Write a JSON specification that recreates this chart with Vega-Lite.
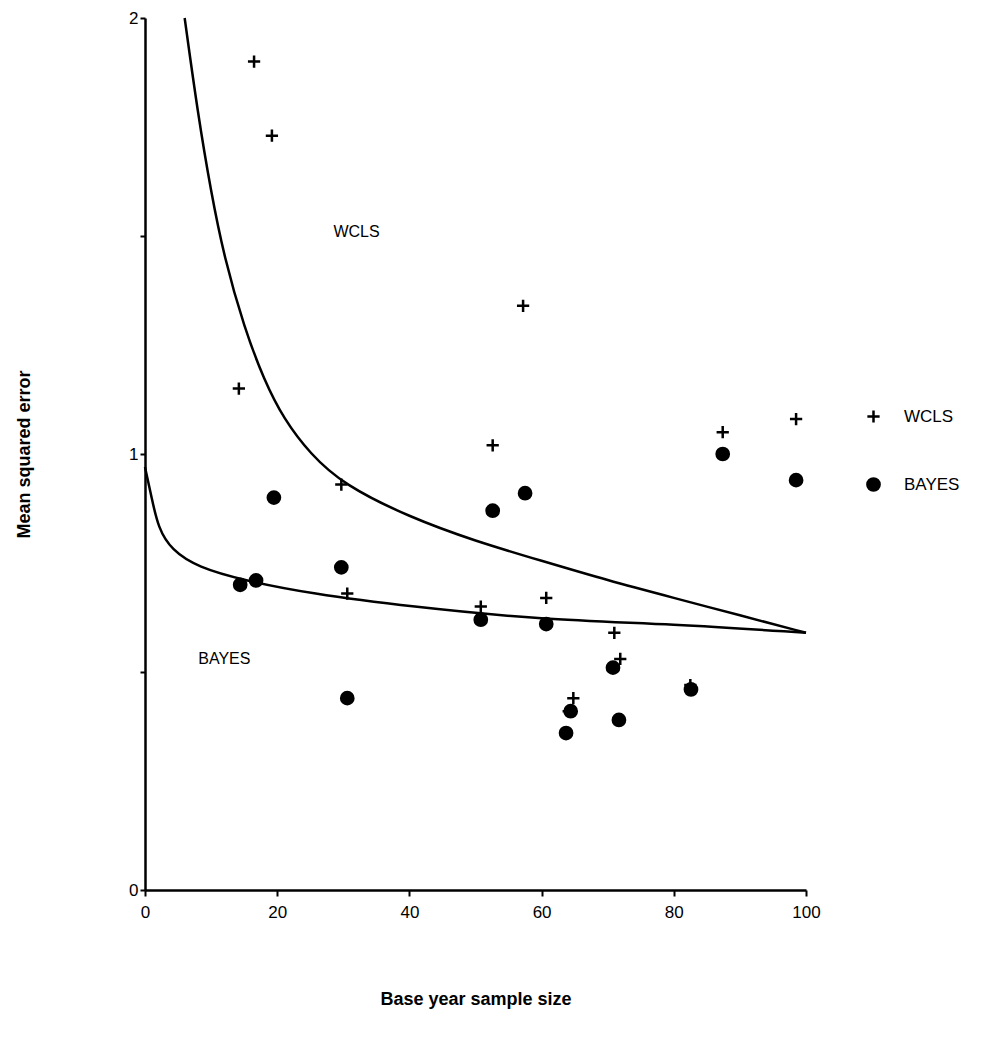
{
  "$schema": "https://vega.github.io/schema/vega-lite/v6.json",
  "width": 661,
  "height": 872,
  "autosize": "none",
  "padding": {"left": 145, "top": 18, "right": 194, "bottom": 147},
  "background": "white",
  "config": {"font": "Liberation Sans", "view": {"stroke": null}},
  "datasets": {
    "pts": [
      {"n": 16.5, "mse": 1.90, "method": "WCLS"},
      {"n": 19.2, "mse": 1.73, "method": "WCLS"},
      {"n": 14.2, "mse": 1.15, "method": "WCLS"},
      {"n": 29.7, "mse": 0.93, "method": "WCLS"},
      {"n": 30.6, "mse": 0.68, "method": "WCLS"},
      {"n": 52.6, "mse": 1.02, "method": "WCLS"},
      {"n": 57.2, "mse": 1.34, "method": "WCLS"},
      {"n": 50.8, "mse": 0.65, "method": "WCLS"},
      {"n": 60.7, "mse": 0.67, "method": "WCLS"},
      {"n": 71.0, "mse": 0.59, "method": "WCLS"},
      {"n": 71.9, "mse": 0.53, "method": "WCLS"},
      {"n": 64.8, "mse": 0.44, "method": "WCLS"},
      {"n": 64.1, "mse": 0.41, "method": "WCLS"},
      {"n": 82.5, "mse": 0.47, "method": "WCLS"},
      {"n": 87.4, "mse": 1.05, "method": "WCLS"},
      {"n": 98.5, "mse": 1.08, "method": "WCLS"},
      {"n": 14.4, "mse": 0.70, "method": "BAYES"},
      {"n": 16.8, "mse": 0.71, "method": "BAYES"},
      {"n": 19.5, "mse": 0.90, "method": "BAYES"},
      {"n": 29.7, "mse": 0.74, "method": "BAYES"},
      {"n": 30.6, "mse": 0.44, "method": "BAYES"},
      {"n": 52.6, "mse": 0.87, "method": "BAYES"},
      {"n": 57.5, "mse": 0.91, "method": "BAYES"},
      {"n": 50.8, "mse": 0.62, "method": "BAYES"},
      {"n": 60.7, "mse": 0.61, "method": "BAYES"},
      {"n": 70.8, "mse": 0.51, "method": "BAYES"},
      {"n": 71.7, "mse": 0.39, "method": "BAYES"},
      {"n": 64.4, "mse": 0.41, "method": "BAYES"},
      {"n": 63.7, "mse": 0.36, "method": "BAYES"},
      {"n": 82.6, "mse": 0.46, "method": "BAYES"},
      {"n": 87.4, "mse": 1.00, "method": "BAYES"},
      {"n": 98.5, "mse": 0.94, "method": "BAYES"}
    ],
    "curves": [
      {"n": 6, "mse": 2.0, "curve": "WCLS"},
      {"n": 8, "mse": 1.78, "curve": "WCLS"},
      {"n": 10, "mse": 1.6, "curve": "WCLS"},
      {"n": 12, "mse": 1.45, "curve": "WCLS"},
      {"n": 15, "mse": 1.29, "curve": "WCLS"},
      {"n": 18, "mse": 1.17, "curve": "WCLS"},
      {"n": 21, "mse": 1.08, "curve": "WCLS"},
      {"n": 25, "mse": 1.0, "curve": "WCLS"},
      {"n": 30, "mse": 0.93, "curve": "WCLS"},
      {"n": 40, "mse": 0.855, "curve": "WCLS"},
      {"n": 50, "mse": 0.8, "curve": "WCLS"},
      {"n": 60, "mse": 0.755, "curve": "WCLS"},
      {"n": 70, "mse": 0.71, "curve": "WCLS"},
      {"n": 80, "mse": 0.67, "curve": "WCLS"},
      {"n": 90, "mse": 0.63, "curve": "WCLS"},
      {"n": 100, "mse": 0.59, "curve": "WCLS"},
      {"n": 0, "mse": 0.97, "curve": "BAYES"},
      {"n": 1, "mse": 0.9, "curve": "BAYES"},
      {"n": 2, "mse": 0.83, "curve": "BAYES"},
      {"n": 4, "mse": 0.78, "curve": "BAYES"},
      {"n": 8, "mse": 0.74, "curve": "BAYES"},
      {"n": 15, "mse": 0.71, "curve": "BAYES"},
      {"n": 25, "mse": 0.68, "curve": "BAYES"},
      {"n": 40, "mse": 0.65, "curve": "BAYES"},
      {"n": 60, "mse": 0.62, "curve": "BAYES"},
      {"n": 80, "mse": 0.61, "curve": "BAYES"},
      {"n": 100, "mse": 0.59, "curve": "BAYES"}
    ],
    "labels": [
      {"n": 32, "mse": 1.51, "t": "WCLS"},
      {"n": 12, "mse": 0.53, "t": "BAYES"}
    ]
  },
  "layer": [
    {
      "data": {"name": "curves"},
      "mark": {"type": "line", "color": "black", "strokeWidth": 2.5, "interpolate": "basis"},
      "encoding": {
        "x": {"field": "n", "type": "quantitative", "scale": {"domain": [0, 100]},
          "axis": {"values": [0, 20, 40, 60, 80, 100], "grid": false, "domainColor": "black", "domainWidth": 2.5, "tickColor": "black", "tickWidth": 2, "tickSize": 6, "labelFontSize": 17, "labelColor": "black", "labelPadding": 8, "labelFlush": false, "title": "Base year sample size", "titleFontSize": 18, "titleFontWeight": "bold", "titlePadding": 70, "titleColor": "black"}},
        "y": {"field": "mse", "type": "quantitative", "scale": {"domain": [0, 2]},
          "axis": {"values": [0, 0.5, 1, 1.5, 2], "labelExpr": "datum.value % 1 == 0 ? format(datum.value, 'd') : ''", "grid": false, "domainColor": "black", "domainWidth": 2.5, "tickColor": "black", "tickWidth": 2, "tickSize": 5, "labelFontSize": 17, "labelColor": "black", "labelFlush": false, "title": "Mean squared error", "titleFontSize": 18, "titleFontWeight": "bold", "titlePadding": 95, "titleColor": "black"}},
        "detail": {"field": "curve"}
      }
    },
    {
      "data": {"name": "pts"},
      "mark": {"type": "point", "strokeWidth": 2.5, "size": 150, "opacity": 1},
      "encoding": {
        "x": {"field": "n", "type": "quantitative"},
        "y": {"field": "mse", "type": "quantitative"},
        "shape": {"field": "method", "type": "nominal", "scale": {"domain": ["WCLS", "BAYES"], "range": ["M-1,0H1M0,-1V1", "circle"]},
          "legend": {"title": null, "orient": "none", "legendX": 720, "legendY": 390, "labelFontSize": 17, "labelColor": "black", "rowPadding": 45, "labelOffset": 22, "symbolStrokeWidth": 2.5, "symbolSize": 150}},
        "fill": {"field": "method", "type": "nominal", "scale": {"domain": ["WCLS", "BAYES"], "range": ["transparent", "black"]}, "legend": null},
        "stroke": {"value": "black"}
      }
    },
    {
      "data": {"name": "labels"},
      "mark": {"type": "text", "fontSize": 16, "align": "center", "color": "black"},
      "encoding": {
        "x": {"field": "n", "type": "quantitative"},
        "y": {"field": "mse", "type": "quantitative"},
        "text": {"field": "t"}
      }
    }
  ]
}
